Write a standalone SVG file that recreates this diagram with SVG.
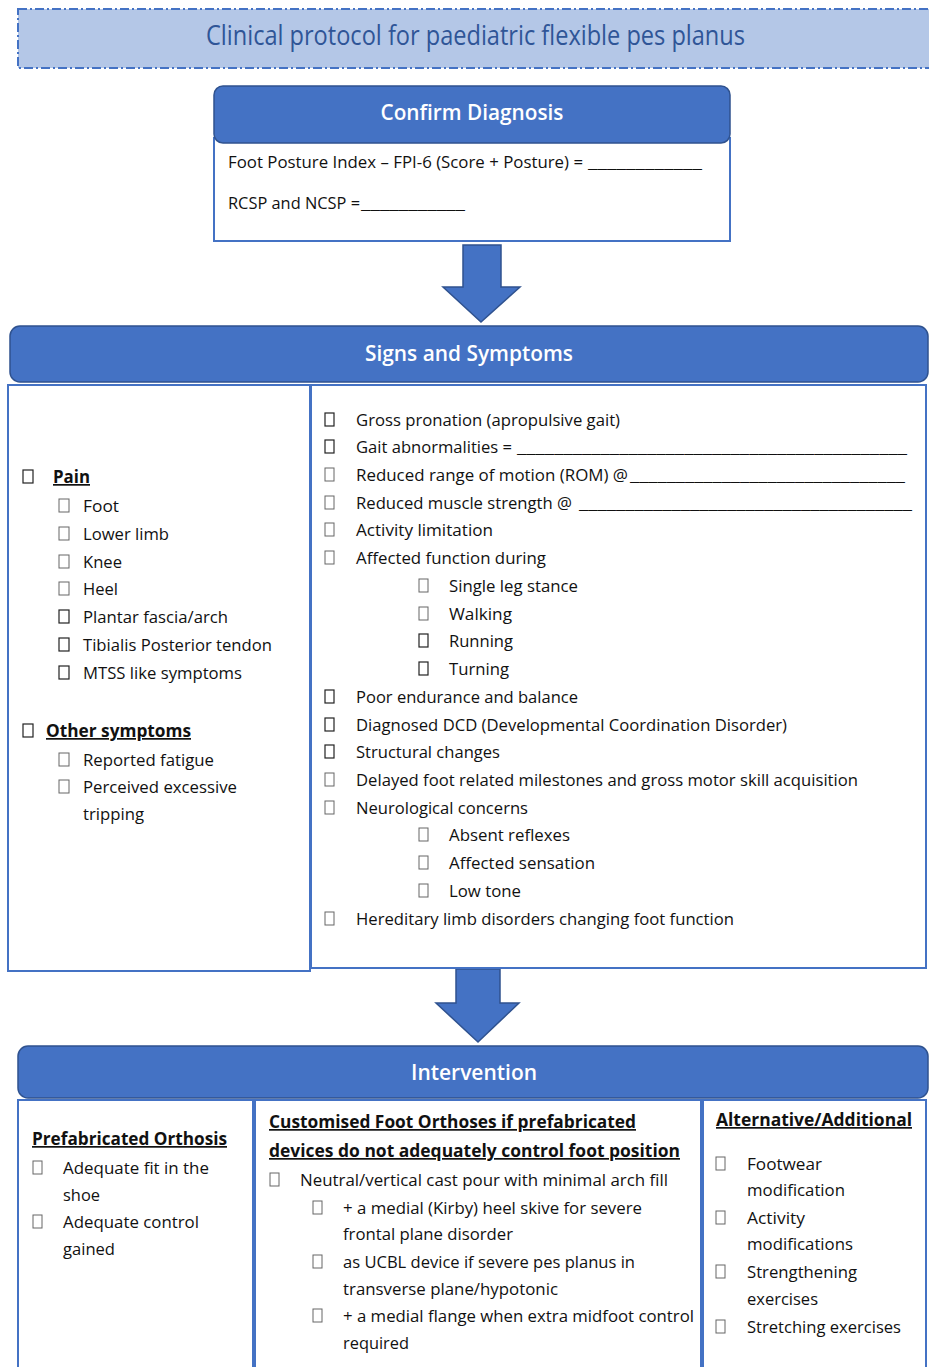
<svg xmlns="http://www.w3.org/2000/svg" width="929" height="1367" viewBox="0 0 929 1367">
<style>
.hdr{fill:#4472C4;stroke:#2F528F;stroke-width:1.5}
.body{fill:#fff;stroke:#4472C4;stroke-width:2}
.arrow{fill:#4472C4;stroke:#2F528F;stroke-width:1.5}
.ht{font-family:"Open Sans","Noto Sans",sans-serif;font-size:21px;fill:#fff;font-weight:600;text-anchor:middle}
.t{font-family:"Open Sans","Noto Sans",sans-serif;font-size:17px;fill:#111}
.b{font-weight:700;text-decoration:underline}
.cb{fill:#fff;stroke:#666;stroke-width:1}
.cbd{fill:#fff;stroke:#222;stroke-width:1.2}
</style>
<rect width="929" height="1367" fill="#fff"/>
<g id="title">
<rect x="18" y="9" width="930" height="59" fill="#B4C7E7" stroke="#4472C4" stroke-width="2" stroke-dasharray="9 3 2 3"/>
<text x="206" y="45" font-family="Open Sans, Noto Sans, sans-serif" font-size="27" fill="#2F5597" textLength="539" lengthAdjust="spacingAndGlyphs">Clinical protocol for paediatric flexible pes planus</text>
</g>
<g id="confirm">
<rect class="body" x="214" y="138" width="516" height="103"/>
<rect class="hdr" x="214" y="86" width="516" height="57" rx="9"/>
<text class="ht" x="472" y="120" textLength="183" lengthAdjust="spacingAndGlyphs">Confirm Diagnosis</text>
<text class="t" x="228" y="168" textLength="355" lengthAdjust="spacingAndGlyphs">Foot Posture Index – FPI-6 (Score + Posture) =</text>
<text class="t" x="588" y="168" textLength="114" lengthAdjust="spacingAndGlyphs">____________</text>
<text class="t" x="228" y="209" textLength="132" lengthAdjust="spacingAndGlyphs">RCSP and NCSP =</text>
<text class="t" x="361" y="209" textLength="104" lengthAdjust="spacingAndGlyphs">___________</text>
</g>
<g id="connectors">
<polygon class="arrow" points="463,245 501,245 501,287 520,287 481,322 443,287 463,287"/>
<polygon class="arrow" points="456,969 500,969 500,1003 519,1003 478,1042 436,1003 456,1003"/>
</g>
<g id="signs">
<rect class="body" x="8" y="385" width="302" height="586"/>
<rect class="body" x="311" y="385" width="615" height="583"/>
<rect class="hdr" x="10" y="326" width="918" height="56" rx="10"/>
<text class="ht" x="469" y="361" textLength="208" lengthAdjust="spacingAndGlyphs">Signs and Symptoms</text>
</g>
<g id="pain">
<rect class="cbd" x="23" y="470" width="10" height="13"/>
<text class="t b" x="53" y="483" textLength="37" lengthAdjust="spacingAndGlyphs">Pain</text>
<rect class="cb" x="59" y="499" width="10" height="13"/><text class="t" x="83" y="512" textLength="36" lengthAdjust="spacingAndGlyphs">Foot</text>
<rect class="cb" x="59" y="527" width="10" height="13"/><text class="t" x="83" y="540" textLength="86" lengthAdjust="spacingAndGlyphs">Lower limb</text>
<rect class="cb" x="59" y="555" width="10" height="13"/><text class="t" x="83" y="568" textLength="39" lengthAdjust="spacingAndGlyphs">Knee</text>
<rect class="cb" x="59" y="582" width="10" height="13"/><text class="t" x="83" y="595" textLength="35" lengthAdjust="spacingAndGlyphs">Heel</text>
<rect class="cbd" x="59" y="610" width="10" height="13"/><text class="t" x="83" y="623" textLength="145" lengthAdjust="spacingAndGlyphs">Plantar fascia/arch</text>
<rect class="cbd" x="59" y="638" width="10" height="13"/><text class="t" x="83" y="651" textLength="189" lengthAdjust="spacingAndGlyphs">Tibialis Posterior tendon</text>
<rect class="cbd" x="59" y="666" width="10" height="13"/><text class="t" x="83" y="679" textLength="159" lengthAdjust="spacingAndGlyphs">MTSS like symptoms</text>
</g>
<g id="other">
<rect class="cbd" x="23" y="724" width="10" height="13"/>
<text class="t b" x="46" y="737" textLength="145" lengthAdjust="spacingAndGlyphs">Other symptoms</text>
<rect class="cb" x="59" y="753" width="10" height="13"/><text class="t" x="83" y="766" textLength="131" lengthAdjust="spacingAndGlyphs">Reported fatigue</text>
<rect class="cb" x="59" y="780" width="10" height="13"/><text class="t" x="83" y="793" textLength="154" lengthAdjust="spacingAndGlyphs">Perceived excessive</text>
<text class="t" x="83" y="820" textLength="61" lengthAdjust="spacingAndGlyphs">tripping</text>
</g>
<g id="signs-list">
<rect class="cbd" x="325" y="413" width="9" height="13"/><text class="t" x="356" y="426" textLength="264" lengthAdjust="spacingAndGlyphs">Gross pronation (apropulsive gait)</text>
<rect class="cbd" x="325" y="440" width="9" height="13"/><text class="t" x="356" y="453" textLength="156" lengthAdjust="spacingAndGlyphs">Gait abnormalities =</text><text class="t" x="517" y="453" textLength="390" lengthAdjust="spacingAndGlyphs">__________________________________________</text>
<rect class="cb" x="325" y="468" width="9" height="13"/><text class="t" x="356" y="481" textLength="272" lengthAdjust="spacingAndGlyphs">Reduced range of motion (ROM) @</text><text class="t" x="630" y="481" textLength="275" lengthAdjust="spacingAndGlyphs">______________________________</text>
<rect class="cb" x="325" y="496" width="9" height="13"/><text class="t" x="356" y="509" textLength="216" lengthAdjust="spacingAndGlyphs">Reduced muscle strength @</text><text class="t" x="579" y="509" textLength="333" lengthAdjust="spacingAndGlyphs">____________________________________</text>
<rect class="cb" x="325" y="523" width="9" height="13"/><text class="t" x="356" y="536" textLength="137" lengthAdjust="spacingAndGlyphs">Activity limitation</text>
<rect class="cb" x="325" y="551" width="9" height="13"/><text class="t" x="356" y="564" textLength="190" lengthAdjust="spacingAndGlyphs">Affected function during</text>
<rect class="cb" x="419" y="579" width="9" height="13"/><text class="t" x="449" y="592" textLength="129" lengthAdjust="spacingAndGlyphs">Single leg stance</text>
<rect class="cb" x="419" y="607" width="9" height="13"/><text class="t" x="449" y="620" textLength="63" lengthAdjust="spacingAndGlyphs">Walking</text>
<rect class="cbd" x="419" y="634" width="9" height="13"/><text class="t" x="449" y="647" textLength="64" lengthAdjust="spacingAndGlyphs">Running</text>
<rect class="cbd" x="419" y="662" width="9" height="13"/><text class="t" x="449" y="675" textLength="60" lengthAdjust="spacingAndGlyphs">Turning</text>
<rect class="cbd" x="325" y="690" width="9" height="13"/><text class="t" x="356" y="703" textLength="222" lengthAdjust="spacingAndGlyphs">Poor endurance and balance</text>
<rect class="cbd" x="325" y="718" width="9" height="13"/><text class="t" x="356" y="731" textLength="431" lengthAdjust="spacingAndGlyphs">Diagnosed DCD (Developmental Coordination Disorder)</text>
<rect class="cbd" x="325" y="745" width="9" height="13"/><text class="t" x="356" y="758" textLength="144" lengthAdjust="spacingAndGlyphs">Structural changes</text>
<rect class="cb" x="325" y="773" width="9" height="13"/><text class="t" x="356" y="786" textLength="502" lengthAdjust="spacingAndGlyphs">Delayed foot related milestones and gross motor skill acquisition</text>
<rect class="cb" x="325" y="801" width="9" height="13"/><text class="t" x="356" y="814" textLength="172" lengthAdjust="spacingAndGlyphs">Neurological concerns</text>
<rect class="cb" x="419" y="828" width="9" height="13"/><text class="t" x="449" y="841" textLength="121" lengthAdjust="spacingAndGlyphs">Absent reflexes</text>
<rect class="cb" x="419" y="856" width="9" height="13"/><text class="t" x="449" y="869" textLength="146" lengthAdjust="spacingAndGlyphs">Affected sensation</text>
<rect class="cb" x="419" y="884" width="9" height="13"/><text class="t" x="449" y="897" textLength="72" lengthAdjust="spacingAndGlyphs">Low tone</text>
<rect class="cb" x="325" y="912" width="9" height="13"/><text class="t" x="356" y="925" textLength="378" lengthAdjust="spacingAndGlyphs">Hereditary limb disorders changing foot function</text>
</g>
<g id="intervention">
<rect class="body" x="18" y="1100" width="235" height="280"/>
<rect class="body" x="255" y="1100" width="446" height="280"/>
<rect class="body" x="703" y="1100" width="223" height="280"/>
<rect class="hdr" x="18" y="1046" width="910" height="52" rx="10"/>
<text class="ht" x="474" y="1080" textLength="126" lengthAdjust="spacingAndGlyphs">Intervention</text>
</g>
<g id="prefab">
<text class="t b" x="32" y="1145" textLength="195" lengthAdjust="spacingAndGlyphs">Prefabricated Orthosis</text>
<rect class="cb" x="33" y="1161" width="9" height="13"/><text class="t" x="63" y="1174" textLength="146" lengthAdjust="spacingAndGlyphs">Adequate fit in the</text>
<text class="t" x="63" y="1201" textLength="37" lengthAdjust="spacingAndGlyphs">shoe</text>
<rect class="cb" x="33" y="1215" width="9" height="13"/><text class="t" x="63" y="1228" textLength="136" lengthAdjust="spacingAndGlyphs">Adequate control</text>
<text class="t" x="63" y="1255" textLength="52" lengthAdjust="spacingAndGlyphs">gained</text>
</g>
<g id="custom">
<text class="t b" x="269" y="1128" textLength="367" lengthAdjust="spacingAndGlyphs">Customised Foot Orthoses if prefabricated</text>
<text class="t b" x="269" y="1157" textLength="411" lengthAdjust="spacingAndGlyphs">devices do not adequately control foot position</text>
<rect class="cb" x="270" y="1173" width="9" height="13"/><text class="t" x="300" y="1186" textLength="368" lengthAdjust="spacingAndGlyphs">Neutral/vertical cast pour with minimal arch fill</text>
<rect class="cb" x="313" y="1201" width="9" height="13"/><text class="t" x="343" y="1214" textLength="299" lengthAdjust="spacingAndGlyphs">+ a medial (Kirby) heel skive for severe</text>
<text class="t" x="343" y="1240" textLength="170" lengthAdjust="spacingAndGlyphs">frontal plane disorder</text>
<rect class="cb" x="313" y="1255" width="9" height="13"/><text class="t" x="343" y="1268" textLength="292" lengthAdjust="spacingAndGlyphs">as UCBL device if severe pes planus in</text>
<text class="t" x="343" y="1295" textLength="215" lengthAdjust="spacingAndGlyphs">transverse plane/hypotonic</text>
<rect class="cb" x="313" y="1309" width="9" height="13"/><text class="t" x="343" y="1322" textLength="351" lengthAdjust="spacingAndGlyphs">+ a medial flange when extra midfoot control</text>
<text class="t" x="343" y="1349" textLength="66" lengthAdjust="spacingAndGlyphs">required</text>
</g>
<g id="alternative">
<text class="t b" x="716" y="1126" textLength="196" lengthAdjust="spacingAndGlyphs">Alternative/Additional</text>
<rect class="cb" x="716" y="1157" width="9" height="13"/><text class="t" x="747" y="1170" textLength="75" lengthAdjust="spacingAndGlyphs">Footwear</text>
<text class="t" x="747" y="1196" textLength="98" lengthAdjust="spacingAndGlyphs">modification</text>
<rect class="cb" x="716" y="1211" width="9" height="13"/><text class="t" x="747" y="1224" textLength="58" lengthAdjust="spacingAndGlyphs">Activity</text>
<text class="t" x="747" y="1250" textLength="106" lengthAdjust="spacingAndGlyphs">modifications</text>
<rect class="cb" x="716" y="1265" width="9" height="13"/><text class="t" x="747" y="1278" textLength="110" lengthAdjust="spacingAndGlyphs">Strengthening</text>
<text class="t" x="747" y="1305" textLength="71" lengthAdjust="spacingAndGlyphs">exercises</text>
<rect class="cb" x="716" y="1320" width="9" height="13"/><text class="t" x="747" y="1333" textLength="154" lengthAdjust="spacingAndGlyphs">Stretching exercises</text>
</g>
</svg>
